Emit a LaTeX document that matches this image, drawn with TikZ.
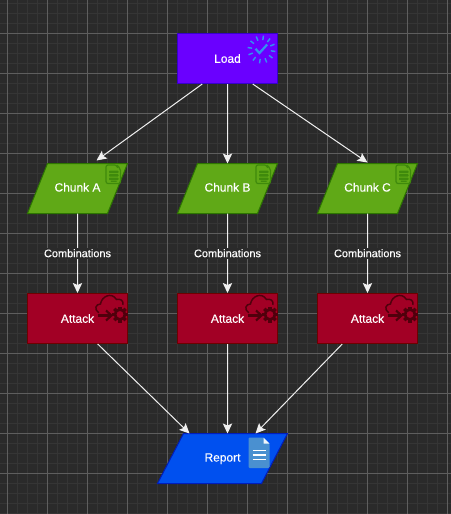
\documentclass[tikz,border=0pt]{standalone}
\usepackage{fontspec}
\setmainfont[FakeBold=0.2]{Liberation Sans}
\usetikzlibrary{shapes.geometric,arrows.meta,calc}
\definecolor{bgc}{HTML}{2A2A2A}
\definecolor{gridminor}{HTML}{353535}
\definecolor{gridmajor}{HTML}{5E5E5E}
\definecolor{edgec}{HTML}{F0F0F0}
\definecolor{iconblue}{HTML}{3390F0}
\definecolor{chunkdark}{HTML}{2D7600}
\definecolor{chunkicon}{HTML}{3F8A0C}
\definecolor{attackdark}{HTML}{50000C}
\definecolor{chunkfill}{HTML}{60A917}
\definecolor{attackfill}{HTML}{A20025}
\definecolor{attackedge}{HTML}{6F0000}
\definecolor{loadfill}{HTML}{6A00FF}
\definecolor{loaddark}{HTML}{3700CC}
\definecolor{reportfill}{HTML}{0050EF}
\definecolor{reportdark}{HTML}{001DBC}
\definecolor{docblue}{HTML}{4A90D0}
\tikzset{
  x=0.75bp,y=-0.75bp,
  flow/.style={line width=0.75bp,draw=edgec,-{Stealth[length=7.5bp,width=7bp,inset=1.5bp,fill=edgec]}},
  boxtext/.style={text=white,font=\fontsize{9}{11}\selectfont},
  procbox/.style={boxtext,rectangle,draw,line width=0.75bp,inner sep=0pt,minimum width=75bp,minimum height=37.5bp},
  slanted/.style={boxtext,trapezium,trapezium stretches body=true,draw,line width=0.75bp,inner xsep=0pt,inner ysep=14.55bp,text height=6.5bp,text depth=1.9bp,outer sep=0pt},
  chunkbox/.style={slanted,fill=chunkfill,draw=chunkdark,minimum width=75bp,trapezium left angle=68.2,trapezium right angle=111.8},
  attackbox/.style={procbox,fill=attackfill,draw=attackedge},
  edgelabel/.style={fill=bgc,text=white,font=\fontsize{8.25}{10}\selectfont,inner sep=1bp},
}
\newcommand{\chunkglyph}[2]{%
  \begin{scope}[shift={(#1,#2)},chunkicon]
    \draw[line width=0.9bp,rounded corners=1.5bp] (105.5,164.5) -- (116,164.5) -- (120,168) -- (120,183) -- (105.5,183) -- cycle;
    \fill (117,166) circle (1.6);
    \foreach \yy in {170,173.5,177}{\fill[rounded corners=0.6bp] (108.5,\yy) rectangle (118,\yy+2.6);}
    \fill[rounded corners=0.6bp] (110,180) rectangle (116.5,181.4);
  \end{scope}}
\newcommand{\attackglyph}[2]{%
  \begin{scope}[shift={(#1,#2)},attackdark]
    \draw[line width=1.1bp,line cap=round] (98,312) .. controls (93.5,309) and (95,303.5) .. (100,303.5)
      .. controls (101,296) and (111,291) .. (116,299)
      .. controls (120,298) and (123,300) .. (122.5,304);
    \draw[line width=2.1bp] (97,315) -- (110,315);
    \draw[line width=1.6bp] (105.5,310) -- (111,315) -- (105.5,320);
    \draw[line width=2bp] (119.5,314) circle (5);
    \foreach \aa in {0,45,...,315}{\draw[line width=2.5bp] (119.5,314) ++(\aa:5) -- ++(\aa:3);}
  \end{scope}}
\begin{document}
\begin{tikzpicture}
  \useasboundingbox (0,0) rectangle (451,514);
  \fill[bgc] (0,0) rectangle (451,514);
  \begin{scope}
    \clip (0,0) rectangle (451,514);
    \foreach \i in {-3,...,45}{\draw[gridminor,line width=0.75bp] ({7.5+10*\i},0) -- ({7.5+10*\i},514);}
    \foreach \i in {0,...,52}{\draw[gridminor,line width=0.75bp] (0,{3.5+10*\i}) -- (451,{3.5+10*\i});}
    \foreach \i in {0,...,11}{\draw[gridmajor,line width=0.75bp] ({7.5+40*\i},0) -- ({7.5+40*\i},514);}
    \foreach \i in {0,...,12}{\draw[gridmajor,line width=0.75bp] (0,{-6.5+40*\i}) -- (451,{-6.5+40*\i});}
  \end{scope}

  \begin{scope}[shift={(0.5,0.5)}]
  % nodes
  \node[procbox,fill=loadfill,draw=loaddark] (load) at (227,58) {Load};
  \node[chunkbox] (chunkA) at (77,188) {Chunk A};
  \node[chunkbox] (chunkB) at (227,188) {Chunk B};
  \node[chunkbox] (chunkC) at (367,188) {Chunk C};
  \node[attackbox] (attackA) at (77,318) {Attack};
  \node[attackbox] (attackB) at (227,318) {Attack};
  \node[attackbox] (attackC) at (367,318) {Attack};
  \node[slanted,fill=reportfill,draw=reportdark,minimum width=97.5bp,trapezium left angle=62.5,trapezium right angle=117.5] (report) at (222,458) {Report};

  % icons
  \begin{scope}[shift={(261,49)}]
    \foreach \aa in {0,30,...,330}{\draw[iconblue,line width=1.1bp] (\aa+8:9.5) -- (\aa+8:14);}
    \draw[iconblue,line width=1.7bp] (-6,-0.7) -- (-2,3.5) -- (5.7,-5);
  \end{scope}
  \chunkglyph{0}{0}\chunkglyph{150}{0}\chunkglyph{290}{0}
  \attackglyph{0}{0}\attackglyph{150}{0}\attackglyph{290}{0}
  \fill[docblue,rounded corners=0.8bp] (248,437) -- (263,437) -- (269,443) -- (269,467.5) -- (248,467.5) -- cycle;
  \fill[white!92!docblue] (263,437) -- (269,443) -- (263,443) -- cycle;
  \foreach \yy in {450,454.4,458.8}{\draw[white,line width=1.2bp] (252,\yy) -- (265,\yy);}

  % connectors
  \draw[flow] ($(load.south west)!0.25!(load.south east)$) -- ($(chunkA.north)+(19,-3)$);
  \draw[flow] (load.south) -- (chunkB.north);
  \draw[flow] ($(load.south west)!0.75!(load.south east)$) -- ($(chunkC.north)+(0,-1)$);
  \draw[flow] (chunkA.south) -- node[edgelabel]{Combinations} (attackA.north);
  \draw[flow] (chunkB.south) -- node[edgelabel]{Combinations} (attackB.north);
  \draw[flow] (chunkC.south) -- node[edgelabel]{Combinations} (attackC.north);
  \draw[flow] ($(attackA.south west)!0.7!(attackA.south east)$) -- ($(report.north)+(-33,0)$);
  \draw[flow] (attackB.south) -- ($(report.north)+(5,0)$);
  \draw[flow] ($(attackC.south west)!0.25!(attackC.south east)$) -- ($(report.north)+(33,0)$);
  \end{scope}
\end{tikzpicture}
\end{document}
